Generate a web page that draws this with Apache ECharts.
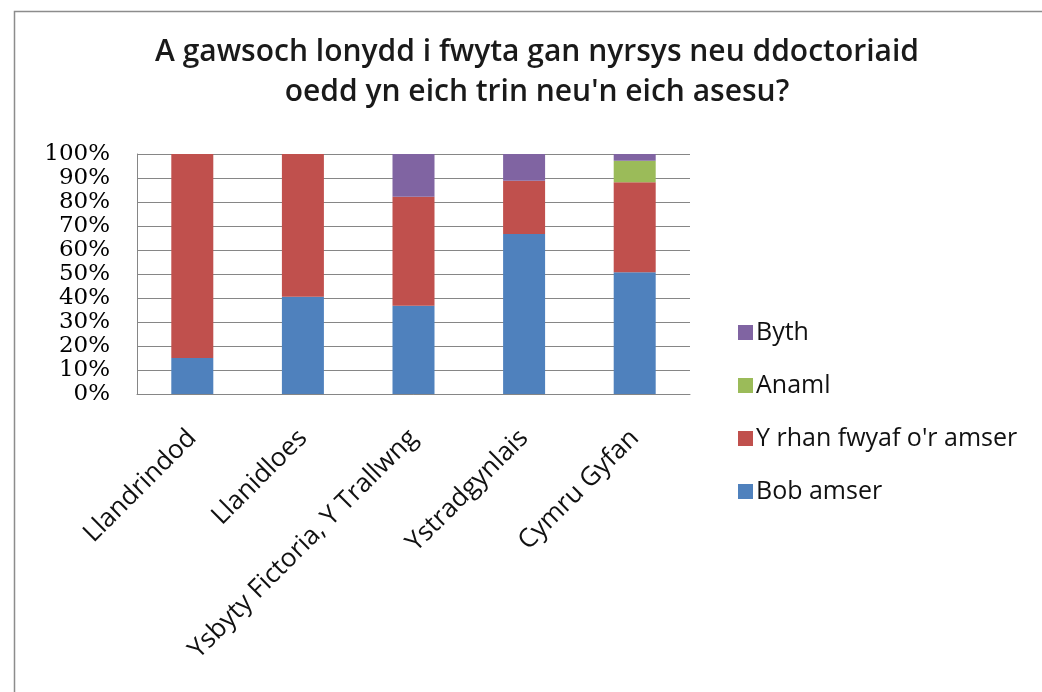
<!DOCTYPE html>
<html><head><meta charset="utf-8">
<script src="https://cdn.jsdelivr.net/npm/echarts@6/dist/echarts.min.js"></script>
<style>html,body{margin:0;padding:0;background:#fff;}#c{width:1042px;height:692px;}</style>
</head><body><div id="c"></div>
<script>
const categories = ['Llandrindod', 'Llanidloes', 'Ysbyty Fictoria, Y Trallwng', 'Ystradgynlais', 'Cymru Gyfan'];
const bobAmser = [15, 40.5, 36.8, 66.7, 50.7];
const rhanFwyaf = [85, 59.5, 45.4, 22.2, 37.5];
const anaml = [0, 0, 0, 0, 9];
const byth = [0, 0, 17.8, 11.1, 2.8];
const seriesNames = ['Bob amser', "Y rhan fwyaf o'r amser", 'Anaml', 'Byth'];
const seriesColors = ['#4F81BD', '#C0504D', '#9BBB59', '#8064A2'];
const seriesValues = [bobAmser, rhanFwyaf, anaml, byth];

const chart = echarts.init(document.getElementById('c'));
chart.setOption({
  animation: false,
  backgroundColor: '#fff',
  graphic: [{
    type: 'rect', shape: { x: 14.5, y: 11.5, width: 1100, height: 800 },
    style: { fill: 'none', stroke: '#8c8c8c', lineWidth: 1.5 }, silent: true
  }],
  title: {
    text: "A gawsoch lonydd i fwyta gan nyrsys neu ddoctoriaid\noedd yn eich trin neu'n eich asesu?",
    left: 532, top: 27, textAlign: 'center',
    textStyle: { fontFamily: 'Open Sans', fontSize: 30, fontWeight: 600, color: '#1a1a1a', lineHeight: 40 }
  },
  legend: {
    orient: 'vertical', left: 733, top: 315,
    data: ['Byth', 'Anaml', "Y rhan fwyaf o'r amser", 'Bob amser'],
    itemWidth: 15, itemHeight: 15, itemGap: 28, icon: 'rect',
    textStyle: { fontFamily: 'Open Sans', fontSize: 25, color: '#111', lineHeight: 25, padding: [0, 0, 0, -2] }
  },
  grid: { left: 137, right: 352, top: 154, bottom: 298 },
  xAxis: {
    type: 'category', data: categories,
    axisLine: { lineStyle: { color: '#868686', width: 1 } },
    axisTick: { show: false },
    axisLabel: { rotate: 45, interval: 0, margin: 40, fontFamily: 'Open Sans', fontSize: 26, color: '#111' }
  },
  yAxis: {
    type: 'value', min: 0, max: 100, interval: 10,
    axisLine: { show: true, lineStyle: { color: '#868686', width: 1 } },
    axisTick: { show: false },
    splitLine: { lineStyle: { color: '#868686', width: 1 } },
    axisLabel: { formatter: '{value}%', margin: 27, fontFamily: 'DejaVu Serif', fontSize: 23, color: '#000', lineHeight: 20 }
  },
  series: seriesNames.map((name, i) => ({
    name, type: 'bar', stack: 'total', barWidth: 42,
    itemStyle: { color: seriesColors[i] },
    data: seriesValues[i]
  }))
});
</script></body></html>
